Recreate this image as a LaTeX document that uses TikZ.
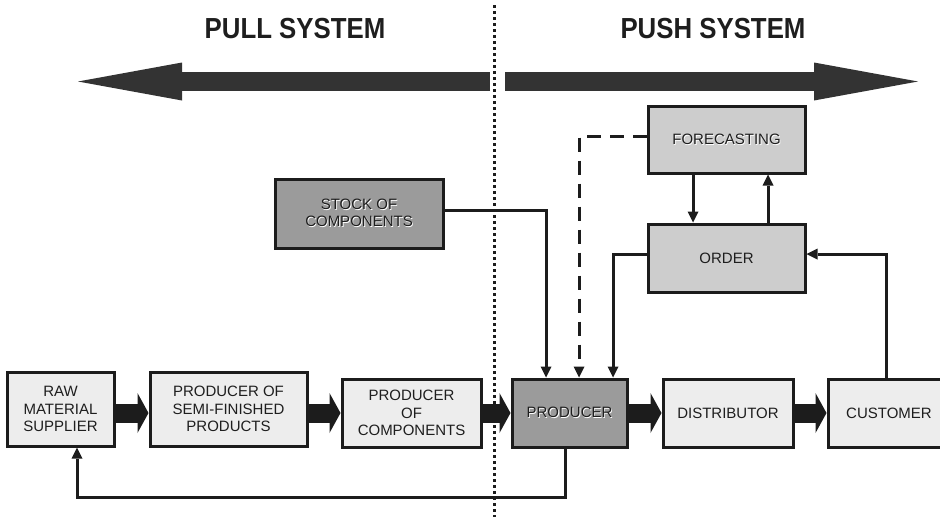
\documentclass[tikz,border=0pt]{standalone}
\usepackage{fontspec}
\setmainfont{Liberation Sans}
\usetikzlibrary{arrows.meta,calc}
\definecolor{boxlight}{HTML}{EDEDED}
\definecolor{boxdark}{HTML}{9B9B9B}
\definecolor{boxmid}{HTML}{CDCDCD}
\definecolor{edge}{HTML}{1C1C1C}
\definecolor{txt}{HTML}{1E1E1E}
\definecolor{bigarrow}{HTML}{333333}
\newcommand\embtext[1]{\rlap{\raisebox{-0.9pt}{\hspace{0.9pt}\textcolor{white}{#1}}}#1}
\tikzset{
  box/.style={draw=edge, line width=3pt, rectangle, inner sep=0pt, align=center,
    text=txt, font=\fontsize{15}{17.5}\selectfont},
  lightbox/.style={box, fill=boxlight},
  darkbox/.style={box, fill=boxdark},
  midbox/.style={box, fill=boxmid},
  fat/.style={draw=edge, line width=19pt, -{Triangle[length=11pt,width=40pt,line width=0pt]}, shorten <=-1pt},
  big/.style={draw=bigarrow, line width=19pt, -{Triangle[length=104pt,width=38pt,line width=0pt]}},
  conn/.style={draw=edge, line width=3pt, -{Triangle[length=11pt,width=11pt,line width=0pt]}},
  title/.style={font=\fontsize{29}{31}\bfseries\selectfont, text=txt, xscale=0.89}
}
\begin{document}
\begin{tikzpicture}[x=1pt,y=-1pt]
\useasboundingbox (0,0) rectangle (940,517);
% titles
\node[title] (pull) at (295,29) {PULL SYSTEM};
\node[title] (push) at (713,29) {PUSH SYSTEM};
% big arrows
\coordinate (lstart) at (490,81.5);
\coordinate (ltip) at (78,81.5);
\coordinate (rstart) at (505,81.5);
\coordinate (rtip) at (918,81.5);
\draw[big] (lstart) -- (ltip);
\draw[big] (rstart) -- (rtip);
% divider
\coordinate (dtop) at (494.5,5);
\coordinate (dbot) at (494.5,517);
\draw[edge, line width=3pt, dash pattern=on 3pt off 3pt] (dtop) -- (dbot);
% boxes
\node[lightbox, minimum width=107pt, minimum height=74pt] (raw) at (60.5,409) {RAW\\MATERIAL\\SUPPLIER};
\node[lightbox, minimum width=157pt, minimum height=74pt] (semi) at (228.5,409) {PRODUCER OF\\SEMI-FINISHED\\PRODUCTS};
\node[lightbox, minimum width=139pt, minimum height=68pt] (comp) at (411.5,413) {PRODUCER\\OF\\COMPONENTS};
\node[darkbox, minimum width=115pt, minimum height=68pt] (prod) at (569.5,413) {\embtext{PRODUCER}};
\node[lightbox, minimum width=130pt, minimum height=68pt] (dist) at (728,413) {DISTRIBUTOR};
\node[lightbox, minimum width=122pt, minimum height=68pt] (cust) at (889,413) {CUSTOMER};
\node[darkbox, minimum width=168pt, minimum height=69pt] (stock) at (359,213.5) {\embtext{STOCK OF}\\\embtext{COMPONENTS}};
\node[midbox, minimum width=157pt, minimum height=67pt] (fore) at (726.5,139.5) {\embtext{FORECASTING}};
\node[midbox, minimum width=157pt, minimum height=68pt] (order) at (726.5,258) {ORDER};
% fat arrows
\draw[fat] (raw.east |- prod) -- (semi.west |- prod);
\draw[fat] (semi.east |- prod) -- (comp.west);
\draw[fat] (comp.east) -- (prod.west);
\draw[fat] (prod.east) -- (dist.west);
\draw[fat] (dist.east) -- (cust.west);
% connectors
\draw[conn] ([yshift=3.5pt]stock.east) -| ([xshift=-23.5pt]prod.north);
\draw[conn, dash pattern=on 14pt off 9pt] ([yshift=3.5pt]fore.west) -| ([xshift=9.5pt]prod.north);
\draw[conn] ([yshift=4pt]order.west) -| ([xshift=43.5pt]prod.north);
\draw[conn] ([xshift=-3pt]cust.north) |- ([yshift=4pt]order.east);
\draw[conn] ([xshift=-33.5pt]fore.south) -- ([xshift=-33.5pt]order.north);
\draw[conn] ([xshift=41.5pt]order.north) -- ([xshift=41.5pt]fore.south);
\coordinate (fb) at (0,497);
\draw[conn] ([xshift=-4.5pt]prod.south) |- ([xshift=16.5pt]fb -| raw.center) -- ([xshift=16.5pt]raw.south);
\end{tikzpicture}
\end{document}
